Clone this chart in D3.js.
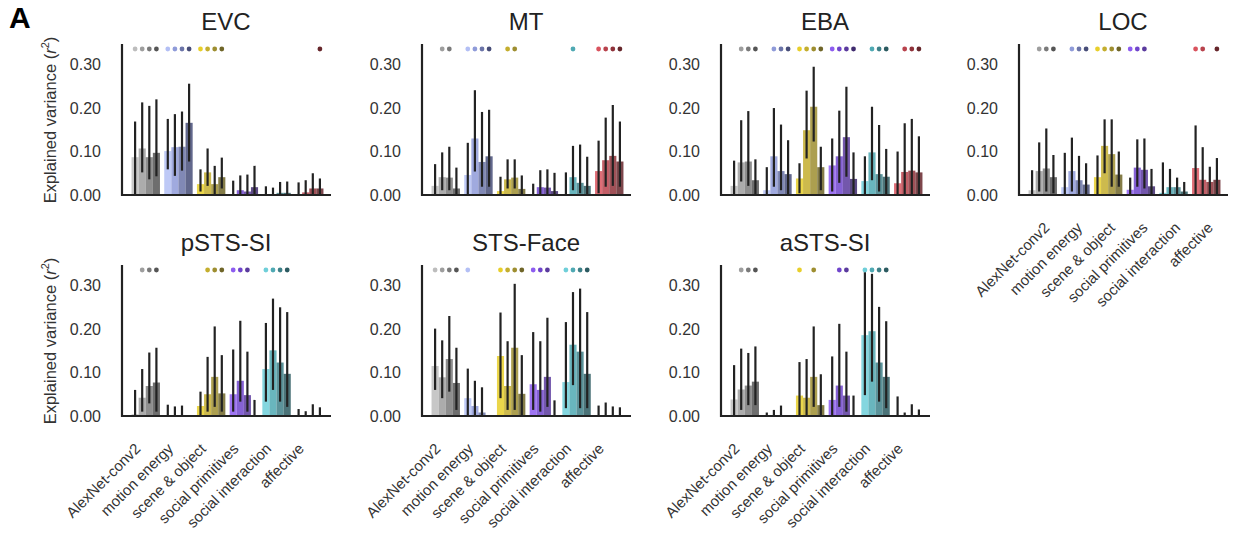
<!DOCTYPE html>
<html lang="en">
<head>
<meta charset="UTF-8">
<title>explained variance by ROI</title>
<script src="https://cdn.jsdelivr.net/npm/d3@7/dist/d3.min.js"></script>
<style>
	body { margin: 0; background: #fff; }
	text { font-family: "Liberation Sans", Arial, sans-serif; }
</style>
</head>
<body>
<div id="chart"></div>
<script type="text/javascript">
// categories on the x axis, 4 shades (feature subsets) per category
let categories = ['AlexNet-conv2', 'motion energy', 'scene & object', 'social primitives', 'social interaction', 'affective'];
let shades = [0, 1, 2, 3];
let ticks = [0, 0.1, 0.2, 0.3];
let tickLabels = ['0.00', '0.10', '0.20', '0.30'];

let palette = [
	['#bdbdbd', '#9e9e9e', '#7a7a7a', '#555555'],
	['#b3bff5', '#8f9bd9', '#6b74a8', '#474d78'],
	['#e8cf2a', '#c4ae2e', '#9e8e30', '#6f6528'],
	['#8d5cf0', '#7045cc', '#5a3a9e', '#3f2a6e'],
	['#6fcfd9', '#4fa9b3', '#3e8088', '#2b5a60'],
	['#d9535e', '#b8424c', '#8f323a', '#66262b']
];

// mean / ci low / ci high, one line per category, 4 values each
let evcMean = [0.087, 0.107, 0.087, 0.097,  0.101, 0.110, 0.111, 0.166,  0.025, 0.052, 0.025, 0.041,  0.002, 0.011, 0.008, 0.018,  0.000, 0.000, 0.005, 0.005,  0.000, 0.006, 0.015, 0.015];
let evcLo   = [0.000, 0.052, 0.036, 0.043,  0.059, 0.044, 0.056, 0.077,  0.008, 0.021, 0.002, 0.015,  0.000, 0.000, 0.000, 0.002,  0.000, 0.000, 0.000, 0.000,  0.000, 0.000, 0.002, 0.000];
let evcHi   = [0.169, 0.213, 0.205, 0.220,  0.175, 0.186, 0.192, 0.256,  0.059, 0.107, 0.067, 0.086,  0.033, 0.045, 0.047, 0.067,  0.020, 0.017, 0.030, 0.031,  0.029, 0.034, 0.050, 0.038];
let evcSig  = [1, 1, 1, 1,  1, 1, 1, 1,  1, 1, 1, 1,  0, 0, 0, 0,  0, 0, 0, 0,  0, 0, 0, 1];

let mtMean = [0.021, 0.041, 0.040, 0.015,  0.046, 0.130, 0.076, 0.089,  0.009, 0.036, 0.040, 0.014,  0.001, 0.018, 0.017, 0.009,  0.002, 0.041, 0.028, 0.021,  0.055, 0.080, 0.090, 0.077];
let mtLo   = [0.000, 0.011, 0.011, 0.000,  0.000, 0.054, 0.019, 0.019,  0.000, 0.015, 0.015, 0.000,  0.000, 0.000, 0.000, 0.000,  0.000, 0.011, 0.004, 0.000,  0.004, 0.019, 0.021, 0.019];
let mtHi   = [0.071, 0.098, 0.111, 0.063,  0.120, 0.241, 0.191, 0.196,  0.042, 0.082, 0.082, 0.045,  0.026, 0.057, 0.059, 0.051,  0.052, 0.113, 0.116, 0.088,  0.125, 0.178, 0.207, 0.169];
let mtSig  = [0, 1, 1, 0,  1, 1, 1, 1,  0, 1, 1, 0,  0, 0, 0, 0,  0, 1, 0, 0,  1, 1, 1, 1];

let ebaMean = [0.021, 0.075, 0.077, 0.034,  0.011, 0.089, 0.055, 0.048,  0.038, 0.149, 0.203, 0.064,  0.068, 0.089, 0.133, 0.037,  0.032, 0.098, 0.048, 0.042,  0.027, 0.053, 0.056, 0.052];
let ebaLo   = [0.000, 0.031, 0.021, 0.000,  0.000, 0.019, 0.011, 0.000,  0.004, 0.084, 0.123, 0.011,  0.008, 0.028, 0.042, 0.000,  0.000, 0.034, 0.008, 0.000,  0.000, 0.000, 0.000, 0.000];
let ebaHi   = [0.079, 0.172, 0.193, 0.082,  0.064, 0.200, 0.162, 0.126,  0.073, 0.240, 0.295, 0.111,  0.130, 0.194, 0.249, 0.098,  0.089, 0.203, 0.161, 0.106,  0.100, 0.165, 0.175, 0.135];
let ebaSig  = [0, 1, 1, 1,  0, 1, 1, 1,  1, 1, 1, 1,  1, 1, 1, 1,  0, 1, 1, 1,  0, 1, 1, 1];

let locMean = [0.011, 0.055, 0.061, 0.041,  0.018, 0.055, 0.034, 0.024,  0.041, 0.113, 0.094, 0.047,  0.012, 0.063, 0.058, 0.020,  0.005, 0.018, 0.018, 0.008,  0.062, 0.035, 0.030, 0.035];
let locLo   = [0.000, 0.008, 0.008, 0.004,  0.000, 0.008, 0.000, 0.000,  0.000, 0.050, 0.019, 0.019,  0.000, 0.019, 0.015, 0.000,  0.000, 0.000, 0.000, 0.000,  0.000, 0.000, 0.000, 0.000];
let locHi   = [0.057, 0.121, 0.153, 0.092,  0.097, 0.132, 0.090, 0.073,  0.091, 0.174, 0.174, 0.100,  0.040, 0.128, 0.130, 0.060,  0.075, 0.060, 0.040, 0.030,  0.160, 0.110, 0.065, 0.085];
let locSig  = [0, 1, 1, 1,  0, 1, 1, 1,  1, 1, 1, 1,  1, 1, 1, 0,  0, 0, 0, 0,  1, 1, 0, 1];

let pstsMean = [0.004, 0.042, 0.069, 0.077,  0.000, 0.000, 0.000, 0.000,  0.023, 0.050, 0.090, 0.052,  0.050, 0.081, 0.048, 0.000,  0.108, 0.151, 0.123, 0.097,  0.000, 0.000, 0.000, 0.000];
let pstsLo   = [0.000, 0.010, 0.029, 0.010,  0.000, 0.000, 0.000, 0.000,  0.000, 0.010, 0.021, 0.010,  0.010, 0.033, 0.010, 0.000,  0.033, 0.060, 0.033, 0.021,  0.000, 0.000, 0.000, 0.000];
let pstsHi   = [0.060, 0.108, 0.146, 0.157,  0.026, 0.022, 0.024, 0.000,  0.056, 0.136, 0.206, 0.140,  0.153, 0.219, 0.148, 0.037,  0.214, 0.270, 0.250, 0.239,  0.016, 0.011, 0.027, 0.020];
let pstsSig  = [0, 1, 1, 1,  0, 0, 0, 0,  0, 1, 1, 1,  1, 1, 1, 0,  1, 1, 1, 1,  0, 0, 0, 0];

let faceMean = [0.115, 0.089, 0.131, 0.076,  0.041, 0.023, 0.008, 0.000,  0.138, 0.069, 0.157, 0.051,  0.073, 0.060, 0.090, 0.000,  0.078, 0.164, 0.148, 0.097,  0.000, 0.000, 0.000, 0.000];
let faceLo   = [0.060, 0.041, 0.056, 0.014,  0.000, 0.000, 0.000, 0.000,  0.041, 0.014, 0.014, 0.000,  0.014, 0.010, 0.021, 0.000,  0.018, 0.071, 0.018, 0.018,  0.000, 0.000, 0.000, 0.000];
let faceHi   = [0.201, 0.174, 0.230, 0.157,  0.109, 0.081, 0.066, 0.000,  0.238, 0.172, 0.304, 0.140,  0.193, 0.172, 0.226, 0.036,  0.216, 0.285, 0.293, 0.239,  0.024, 0.031, 0.022, 0.020];
let faceSig  = [1, 1, 1, 1,  1, 0, 0, 0,  1, 1, 1, 1,  1, 1, 1, 0,  1, 1, 1, 1,  0, 0, 0, 0];

let astsMean = [0.038, 0.061, 0.070, 0.079,  0.000, 0.000, 0.000, 0.000,  0.047, 0.042, 0.090, 0.025,  0.037, 0.070, 0.047, 0.000,  0.186, 0.195, 0.123, 0.090,  0.000, 0.000, 0.000, 0.000];
let astsLo   = [0.000, 0.014, 0.025, 0.025,  0.000, 0.000, 0.000, 0.000,  0.000, 0.000, 0.021, 0.000,  0.000, 0.021, 0.010, 0.000,  0.048, 0.079, 0.033, 0.018,  0.000, 0.000, 0.000, 0.000];
let astsHi   = [0.117, 0.155, 0.145, 0.160,  0.008, 0.014, 0.024, 0.000,  0.124, 0.131, 0.206, 0.096,  0.137, 0.212, 0.148, 0.047,  0.331, 0.327, 0.251, 0.218,  0.045, 0.008, 0.027, 0.015];
let astsSig  = [0, 1, 1, 1,  0, 0, 0, 0,  1, 0, 1, 0,  0, 1, 1, 0,  1, 1, 1, 1,  0, 0, 0, 0];

let panels = [
	{ title: 'EVC', col: 0, row: 0, mean: evcMean, lo: evcLo, hi: evcHi, sig: evcSig, ylab: true, xlab: false },
	{ title: 'MT', col: 1, row: 0, mean: mtMean, lo: mtLo, hi: mtHi, sig: mtSig, ylab: false, xlab: false },
	{ title: 'EBA', col: 2, row: 0, mean: ebaMean, lo: ebaLo, hi: ebaHi, sig: ebaSig, ylab: false, xlab: false },
	{ title: 'LOC', col: 3, row: 0, mean: locMean, lo: locLo, hi: locHi, sig: locSig, ylab: false, xlab: true, labDx: 4 },
	{ title: 'pSTS-SI', col: 0, row: 1, mean: pstsMean, lo: pstsLo, hi: pstsHi, sig: pstsSig, ylab: true, xlab: true, labDx: -8 },
	{ title: 'STS-Face', col: 1, row: 1, mean: faceMean, lo: faceLo, hi: faceHi, sig: faceSig, ylab: false, xlab: true, labDx: -8 },
	{ title: 'aSTS-SI', col: 2, row: 1, mean: astsMean, lo: astsLo, hi: astsHi, sig: astsSig, ylab: false, xlab: true, labDx: -8 }
];

let width = 1233,
	height = 537;
let colX = [122, 422, 721, 1019],
	rowBase = [195, 416],
	plotH = 150,
	plotW = 209;

let svg = d3.select('#chart')
	.append('svg')
	.attr('width', width)
	.attr('height', height);

svg.append('text')
	.attr('x', 9)
	.attr('y', 28)
	.attr('font-size', '30px')
	.attr('font-weight', 900)
	.attr('fill', '#000')
	.text('A');

panels.forEach(p => {
	let x0 = colX[p.col],
		base = rowBase[p.row];
	let g = svg.append('g').attr('transform', `translate(${x0},${base - plotH})`);

	let x = d3.scaleBand()
		.domain(categories)
		.range([7.4, 7.4 + 6 * 32.7])
		.paddingInner(0.131)
		.paddingOuter(0.0655);
	let xs = d3.scaleBand()
		.domain(shades)
		.range([0, x.bandwidth()]);
	let y = d3.scaleLinear()
		.domain([0, 0.345])
		.range([plotH, 0]);

	let rows = p.mean.map((m, i) => ({
		cat: categories[Math.floor(i / 4)],
		ci: Math.floor(i / 4),
		s: i % 4,
		mean: m,
		lo: p.lo[i],
		hi: p.hi[i],
		sig: p.sig[i]
	}));
	let cx = d => x(d.cat) + xs(d.s) + xs.bandwidth() / 2;

	g.selectAll('rect.bar')
		.data(rows)
		.enter()
		.append('rect')
		.attr('class', 'bar')
		.attr('x', d => x(d.cat) + xs(d.s))
		.attr('y', d => y(d.mean))
		.attr('width', xs.bandwidth())
		.attr('height', d => y(0) - y(d.mean))
		.attr('fill', d => palette[d.ci][d.s])
		.attr('fill-opacity', 0.85);

	g.selectAll('line.err')
		.data(rows.filter(d => d.hi > d.lo))
		.enter()
		.append('line')
		.attr('class', 'err')
		.attr('x1', cx)
		.attr('x2', cx)
		.attr('y1', d => y(d.lo))
		.attr('y2', d => y(d.hi))
		.attr('stroke', '#222')
		.attr('stroke-width', 2.2);

	g.selectAll('circle.sig')
		.data(rows.filter(d => d.sig))
		.enter()
		.append('circle')
		.attr('class', 'sig')
		.attr('cx', cx)
		.attr('cy', 4)
		.attr('r', 2.4)
		.attr('fill', d => palette[d.ci][d.s]);

	// y axis: labels only, no tick marks
	let yAxis = d3.axisLeft(y)
		.tickValues(ticks)
		.tickFormat((d, i) => tickLabels[i])
		.tickSize(0)
		.tickPadding(21);
	let ya = g.append('g').call(yAxis);
	ya.select('.domain').remove();
	ya.selectAll('text')
		.attr('font-size', '16px')
		.attr('fill', '#333')
		.attr('font-family', '"Liberation Sans", Arial, sans-serif');

	g.append('line')
		.attr('x1', 0).attr('x2', 0)
		.attr('y1', -1).attr('y2', plotH + 1)
		.attr('stroke', '#222')
		.attr('stroke-width', 2.2);
	g.append('line')
		.attr('x1', -1).attr('x2', plotW)
		.attr('y1', plotH).attr('y2', plotH)
		.attr('stroke', '#222')
		.attr('stroke-width', 2.2);

	g.append('text')
		.attr('x', 104)
		.attr('y', -15)
		.attr('text-anchor', 'middle')
		.attr('font-size', '24px')
		.attr('fill', '#222')
		.text(p.title);

	if (p.xlab) {
		g.selectAll('text.xl')
			.data(categories)
			.enter()
			.append('text')
			.attr('class', 'xl')
			.attr('transform', d => `translate(${x(d) + x.bandwidth() / 2 + p.labDx},${plotH + 30}) rotate(-45)`)
			.attr('text-anchor', 'end')
			.attr('dy', '0.35em')
			.attr('font-size', '15px')
			.attr('fill', '#333')
			.text(d => d);
	}

	if (p.ylab) {
		let t = g.append('text')
			.attr('transform', `translate(-66,${plotH / 2}) rotate(-90)`)
			.attr('text-anchor', 'middle')
			.attr('font-size', '16.5px')
			.attr('fill', '#333');
		t.append('tspan').text('Explained variance (');
		t.append('tspan').attr('font-style', 'italic').text('r');
		t.append('tspan').attr('font-size', '11px').attr('dy', '-7').text('2');
		t.append('tspan').attr('dy', '7').text(')');
	}
});
</script>
</body>
</html>
